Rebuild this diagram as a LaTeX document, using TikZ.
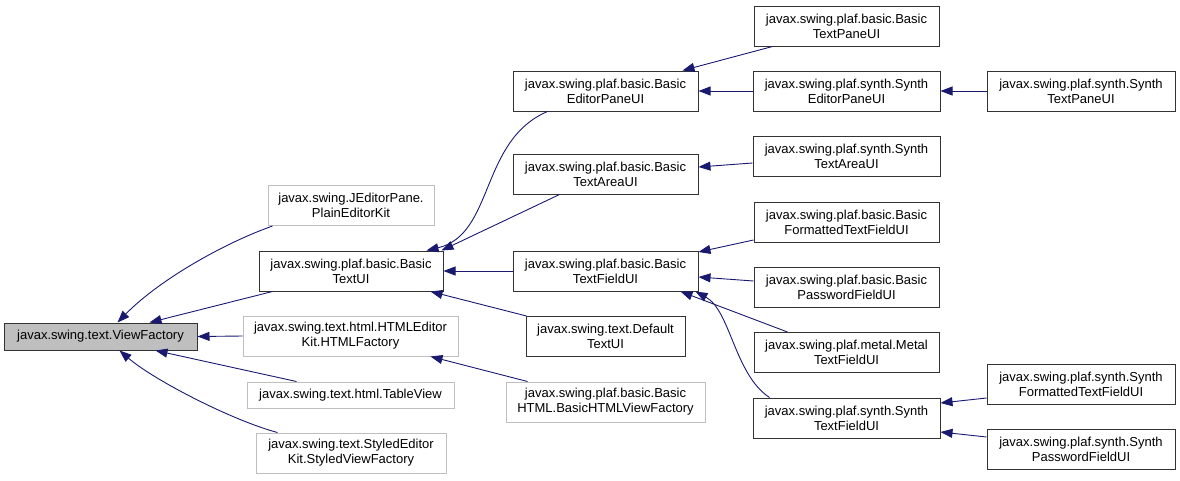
\documentclass[tikz,border=0pt]{standalone}
\usepackage{fontspec}
\setmainfont{Liberation Sans}
\usetikzlibrary{arrows.meta}
\definecolor{edgeblue}{HTML}{191970}
\definecolor{lightline}{HTML}{BFBFBF}
\definecolor{rootfill}{HTML}{BFBFBF}
\begin{document}
\begin{tikzpicture}[
  x=1pt,y=-1pt,
  box/.style={draw=black!80, line width=1pt, align=center, inner sep=0pt,
              minimum height=40, font=\fontsize{13}{15}\selectfont},
  cls/.style={box, minimum width=185},
  ext/.style={box, draw=lightline},
  root/.style={box, fill=rootfill, minimum height=27},
  inh/.style={-{Triangle[length=12pt,width=9pt]}, line width=0.9pt, draw=edgeblue}
]
  \useasboundingbox (0,0) rectangle (1180,480);

  \node[root,minimum width=193] (vf) at (100.5,336.5) {javax.swing.text.ViewFactory};

  \node[ext,minimum width=166] (plain) at (351,205.5) {javax.swing.JEditorPane.\\PlainEditorKit};
  \node[box,minimum width=184] (btui) at (351,271) {javax.swing.plaf.basic.Basic\\TextUI};
  \node[ext,minimum width=215] (htmlf) at (350.5,336) {javax.swing.text.html.HTMLEditor\\Kit.HTMLFactory};
  \node[ext,minimum width=207,minimum height=26] (table) at (350.5,395) {javax.swing.text.html.TableView};
  \node[ext,minimum width=190] (styled) at (351,453) {javax.swing.text.StyledEditor\\Kit.StyledViewFactory};

  \node[cls] (bepui) at (605.5,91) {javax.swing.plaf.basic.Basic\\EditorPaneUI};
  \node[cls] (btaui) at (605.5,174) {javax.swing.plaf.basic.Basic\\TextAreaUI};
  \node[cls] (btfui) at (605.5,271) {javax.swing.plaf.basic.Basic\\TextFieldUI};
  \node[box,minimum width=159] (dtui) at (605.5,336.5) {javax.swing.text.Default\\TextUI};
  \node[ext,minimum width=199] (bhtml) at (605.5,402) {javax.swing.plaf.basic.Basic\\HTML.BasicHTMLViewFactory};

  \node[cls] (btpui) at (846.5,26) {javax.swing.plaf.basic.Basic\\TextPaneUI};
  \node[cls,minimum width=187] (sepui) at (846.5,91) {javax.swing.plaf.synth.Synth\\EditorPaneUI};
  \node[cls,minimum width=187] (staui) at (846.5,156) {javax.swing.plaf.synth.Synth\\TextAreaUI};
  \node[cls] (bftfui) at (846.5,222) {javax.swing.plaf.basic.Basic\\FormattedTextFieldUI};
  \node[cls] (bpfui) at (846.5,287) {javax.swing.plaf.basic.Basic\\PasswordFieldUI};
  \node[cls] (mtfui) at (846.5,352.5) {javax.swing.plaf.metal.Metal\\TextFieldUI};
  \node[cls,minimum width=187] (stfui) at (846.5,418) {javax.swing.plaf.synth.Synth\\TextFieldUI};

  \node[cls,minimum width=188] (stpui) at (1081,91) {javax.swing.plaf.synth.Synth\\TextPaneUI};
  \node[cls,minimum width=188] (sftfui) at (1081,384) {javax.swing.plaf.synth.Synth\\FormattedTextFieldUI};
  \node[cls,minimum width=188] (spfui) at (1081,449) {javax.swing.plaf.synth.Synth\\PasswordFieldUI};

  \draw[inh] ([xshift=5]plain.south west) .. controls +(-48,17) and +(42,-43) .. ([xshift=114]vf.north west);
  \draw[inh] ([xshift=14]btui.south west) -- ([xshift=146]vf.north west);
  \draw[inh] (htmlf.west) -- (vf.east);
  \draw[inh] ([xshift=50]table.north west) -- ([xshift=152]vf.south west);
  \draw[inh] ([xshift=22]styled.north west) .. controls +(-45,-12) and +(35,30) .. ([xshift=116]vf.south west);

  \draw[inh] ([xshift=35]bepui.south west) .. controls +(-68,29) and +(68,-16) .. ([xshift=-17]btui.north east);
  \draw[inh] ([xshift=47]btaui.south west) -- ([xshift=-2]btui.north east);
  \draw[inh] (btfui.west) -- (btui.east);
  \draw[inh] ([xshift=1]dtui.north west) -- ([xshift=-13]btui.south east);
  \draw[inh] ([xshift=22]bhtml.north west) -- ([xshift=-28]htmlf.south east);

  \draw[inh] ([xshift=19]btpui.south west) -- ([xshift=-16]bepui.north east);
  \draw[inh] (sepui.west) -- (bepui.east);
  \draw[inh] (stpui.west) -- (sepui.east);
  \draw[inh] ([yshift=-7]staui.west) -- ([yshift=7]btaui.east);
  \draw[inh] ([yshift=-18]bftfui.west) -- ([yshift=19]btfui.east);
  \draw[inh] ([yshift=6]bpfui.west) -- ([yshift=-6]btfui.east);
  \draw[inh] ([xshift=34]mtfui.north west) -- ([xshift=-18]btfui.south east);
  \draw[inh] ([xshift=17]stfui.north west) .. controls +(-35,-23) and +(35,19) .. ([xshift=-3]btfui.south east);
  \draw[inh] ([yshift=-14]sftfui.west) -- ([yshift=15]stfui.east);
  \draw[inh] ([yshift=12]spfui.west) -- ([yshift=-14]stfui.east);
\end{tikzpicture}
\end{document}
